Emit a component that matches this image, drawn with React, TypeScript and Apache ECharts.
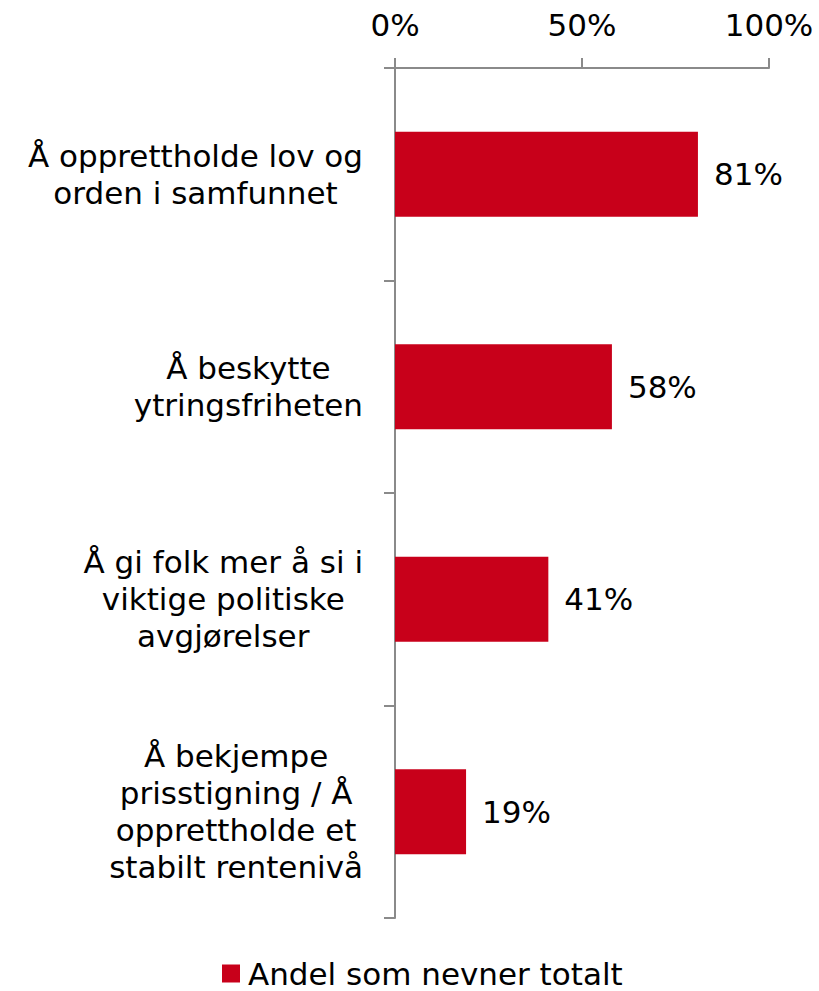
import React, { useEffect, useRef } from "react";
import * as echarts from "echarts";

const categories = [
  "Å opprettholde lov og\norden i samfunnet",
  "Å beskytte\nytringsfriheten",
  "Å gi folk mer å si i\nviktige politiske\navgjørelser",
  "Å bekjempe\nprisstigning / Å\nopprettholde et\nstabilt rentenivå",
];
const values = [81, 58, 41, 19];
const seriesName = "Andel som nevner totalt";
const xTicks = [0, 50, 100];

const RED = "#C8001A";
const GRAY = "#8a8a8a";
const FONT = "DejaVu Sans";
const FS = 31;

export default function App() {
  const ref = useRef<HTMLDivElement>(null);
  useEffect(() => {
    document.body.style.margin = "0";
    const chart = echarts.init(ref.current!, null, { renderer: "svg" });
    chart.setOption({
      animation: false,
      backgroundColor: "#ffffff",
      grid: { left: 395, right: 50, top: 68, bottom: 73, containLabel: false },
      legend: {
        data: [seriesName],
        left: 222,
        top: 958,
        padding: 0,
        icon: "rect",
        itemWidth: 18,
        itemHeight: 18,
        textStyle: {
          fontFamily: FONT,
          fontSize: FS,
          lineHeight: 28,
          color: "#000",
          padding: [0, 0, 0, 3],
        },
      },
      xAxis: {
        type: "value",
        position: "top",
        min: xTicks[0],
        max: xTicks[xTicks.length - 1],
        interval: 50,
        axisLine: { show: true, lineStyle: { color: GRAY, width: 2 } },
        axisTick: { show: true, length: 10, lineStyle: { color: GRAY, width: 2 } },
        splitLine: { show: false },
        axisLabel: {
          formatter: "{value}%",
          fontFamily: FONT,
          fontSize: FS,
          color: "#000",
          margin: 28,
        },
      },
      yAxis: {
        type: "category",
        inverse: true,
        data: categories,
        axisLine: { show: true, lineStyle: { color: GRAY, width: 2 } },
        axisTick: { show: true, length: 11, lineStyle: { color: GRAY, width: 2 } },
        axisLabel: {
          margin: 32,
          align: "right",
          formatter: (v: string) => v.split("\n").map((l) => `{c|${l}}`).join("\n"),
          rich: {
            c: {
              fontFamily: FONT,
              fontSize: FS,
              color: "#000",
              lineHeight: 37,
              align: "center",
            },
          },
        },
      },
      series: [
        {
          name: seriesName,
          type: "bar",
          data: values,
          barCategoryGap: "60%",
          itemStyle: { color: RED },
          label: {
            show: true,
            position: "right",
            distance: 16,
            formatter: "{c}%",
            fontFamily: FONT,
            fontSize: FS,
            color: "#000",
          },
        },
      ],
    });
    return () => chart.dispose();
  }, []);
  return <div ref={ref} style={{ width: 819, height: 991 }} />;
}
